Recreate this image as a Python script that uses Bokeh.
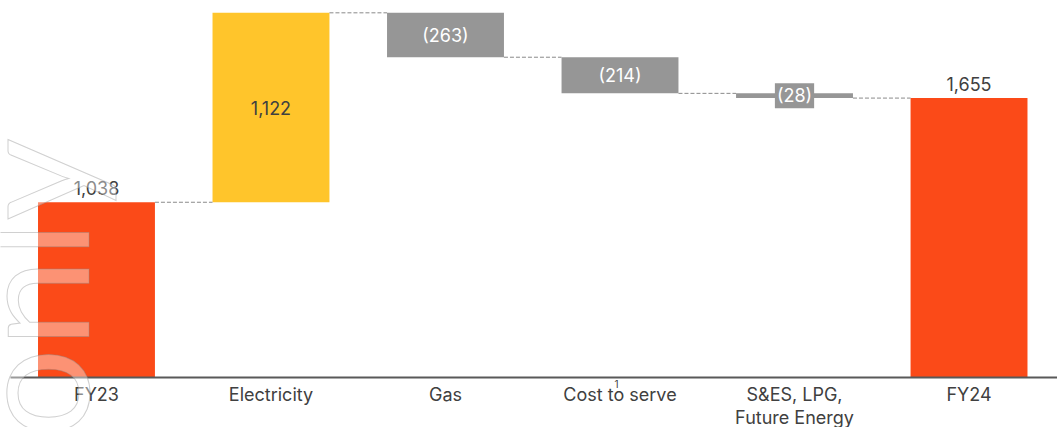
import math
from bokeh.plotting import figure
from bokeh.models import Range1d, FixedTicker, ColumnDataSource, LabelSet, Label, LinearAxis
from bokeh.core.properties import value
from bokeh.embed import file_html
from bokeh.resources import INLINE

# Waterfall: FY23 to FY24 bridge
categories = ["FY23", "Electricity", "Gas", "Cost to serve", "S&ES, LPG,\nFuture Energy", "FY24"]
values = [1038, 1122, -263, -214, -28, 1655]
kinds = ["total", "up", "down", "down", "down", "total"]
value_labels = ["1,038", "1,122", "(263)", "(214)", "(28)", "1,655"]

RED = "#FB4A18"
YELLOW = "#FFC52B"
GREY = "#969696"
TEXT = "#404040"
FONT = "Inter"

# running totals -> bar extents
bottoms, tops, colors, levels = [], [], [], []
running = 0
for v, k in zip(values, kinds):
    if k == "total":
        bottoms.append(0)
        tops.append(v)
        running = v
        colors.append(RED)
    else:
        start = running
        running = running + v
        bottoms.append(min(start, running))
        tops.append(max(start, running))
        colors.append(YELLOW if v > 0 else GREY)
    levels.append(running)

xs = list(range(len(categories)))
bar_w = 0.67

p = figure(width=1057, height=427, x_range=Range1d(-0.55, 5.507), y_range=Range1d(-296, 2233),
           output_backend="svg", toolbar_location=None,
           x_axis_location=None, y_axis_location=None, min_border=0)
p.grid.visible = False
p.outline_line_color = None
p.background_fill_color = "white"

src = ColumnDataSource(dict(x=xs, bottom=bottoms, top=tops, color=colors))
p.vbar(x="x", bottom="bottom", top="top", width=bar_w, fill_color="color", line_color=None, source=src)

# dashed connectors at the running level between neighbouring bars
x0 = [x + bar_w / 2 for x in xs[:-1]]
x1 = [x - bar_w / 2 for x in xs[1:]]
p.segment(x0=x0, x1=x1, y0=levels[:-1], y1=levels[:-1], line_color="#8a8a8a",
          line_width=1, line_dash="4 2")

# value labels
above_x, above_y, above_t = [], [], []
mid_x, mid_y, mid_t, mid_c = [], [], [], []
for i, (k, t) in enumerate(zip(kinds, value_labels)):
    if k == "total":
        above_x.append(xs[i]); above_y.append(tops[i]); above_t.append(t)
    elif i != 4:
        mid_x.append(xs[i]); mid_y.append((tops[i] + bottoms[i]) / 2); mid_t.append(t)
        mid_c.append(TEXT if values[i] > 0 else "white")

p.add_layout(LabelSet(x="x", y="y", text="t", source=ColumnDataSource(dict(x=above_x, y=above_y, t=above_t)),
                      text_align="center", text_baseline="bottom", y_offset=7,
                      text_font=value(FONT), text_font_size=value("18px"), text_color=TEXT))
p.add_layout(LabelSet(x="x", y="y", text="t", source=ColumnDataSource(dict(x=mid_x, y=mid_y, t=mid_t, c=mid_c)),
                      text_align="center", text_baseline="middle",
                      text_font=value(FONT), text_font_size=value("18px"), text_color="c"))
p.add_layout(Label(x=xs[4], y=(tops[4] + bottoms[4]) / 2, text=value_labels[4],
                   text_align="center", text_baseline="middle",
                   text_font=FONT, text_font_size="18px", text_color="white",
                   background_fill_color=GREY, padding=2))

# x axis pinned at zero
ax = LinearAxis(fixed_location=0, ticker=FixedTicker(ticks=xs),
                major_label_overrides={i: c for i, c in enumerate(categories)},
                bounds=(-0.493, 5.507))
ax.major_tick_line_color = None
ax.major_tick_out = 0
ax.major_tick_in = 0
ax.minor_tick_line_color = None
ax.axis_line_color = "#595959"
ax.axis_line_width = 2
ax.major_label_standoff = 6
ax.major_label_text_font = FONT
ax.major_label_text_font_size = "18px"
ax.major_label_text_line_height = 1.1
ax.major_label_text_color = TEXT
p.add_layout(ax, "below")

# footnote marker on "Cost to serve"
p.add_layout(Label(x=xs[3] - 0.02, y=-40, text="1", text_align="center", text_baseline="middle",
                   text_font=FONT, text_font_size="10px", text_color=TEXT))

# outlined watermark
p.add_layout(Label(x=-0.401, y=-361, text="only", angle=math.pi / 2,
                   text_align="left", text_baseline="alphabetic",
                   text_font="Lato", text_font_size="160px", text_color="white", text_alpha=0.4,
                   text_outline_color="#8a8a8a"))

open("out.html", "w").write(file_html(p, INLINE))
